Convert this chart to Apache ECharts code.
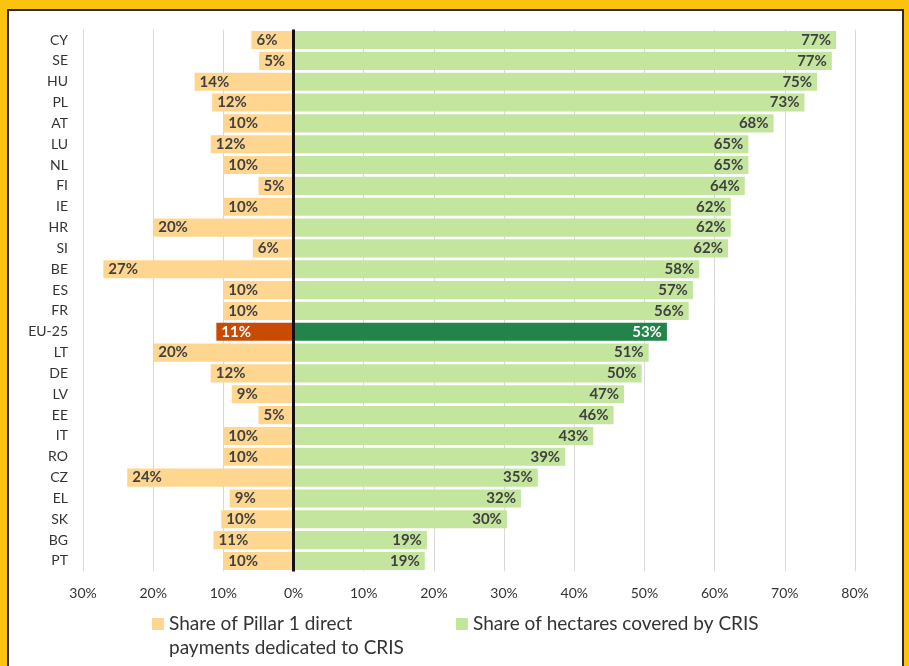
<!DOCTYPE html>
<html><head><meta charset="utf-8">
<script src="https://cdn.jsdelivr.net/npm/echarts@6/dist/echarts.min.js"></script>
<style>html,body{margin:0;padding:0;background:#FBC30E}#c{width:909px;height:666px}</style>
</head><body><div id="c"></div>
<script>
const categories = ['CY','SE','HU','PL','AT','LU','NL','FI','IE','HR','SI','BE','ES','FR','EU-25','LT','DE','LV','EE','IT','RO','CZ','EL','SK','BG','PT'];
const pillarShare = [6.0,4.9,14.1,11.6,10.0,11.8,10.0,5.0,10.0,20.0,5.8,27.1,10.0,10.0,11.0,20.0,11.8,8.8,5.0,10.0,10.0,23.7,9.1,10.3,11.4,10.0];
const hectareShare = [77.3,76.7,74.6,72.8,68.4,64.8,64.8,64.3,62.3,62.3,61.9,57.8,56.9,56.3,53.2,50.6,49.6,47.1,45.6,42.7,38.7,34.8,32.4,30.4,19.0,18.7];
const xTicks = {min:-30, max:80, interval:10};
const highlight = 'EU-25';
const seriesNames = ['Share of Pillar 1 direct payments dedicated to CRIS','Share of hectares covered by CRIS'];
const font = 'Lato, "Open Sans", sans-serif';
const chart = echarts.init(document.getElementById('c'));
const orangeData = categories.map((c,i)=>{
  const d = {value: -pillarShare[i]};
  if (c===highlight){ d.itemStyle={color:'#C94B02'}; d.label={color:'#ffffff'}; }
  return d;
});
const greenData = categories.map((c,i)=>{
  const d = {value: hectareShare[i]};
  if (c===highlight){ d.itemStyle={color:'#23844A'}; d.label={color:'#ffffff'}; }
  return d;
});
const legendText = {fontSize:19,fontFamily:font,color:'#333',lineHeight:24};
chart.setOption({
  backgroundColor:'#FBC30E',
  animation:false,
  graphic:[{type:'rect',z:-10,shape:{x:8,y:10,width:895,height:680},style:{fill:'#ffffff',stroke:'#2b2b2b',lineWidth:2}}],
  grid:{left:83,right:54,top:29.6,bottom:94.6,containLabel:false},
  xAxis:{type:'value',min:xTicks.min,max:xTicks.max,interval:xTicks.interval,
    axisLine:{show:false},axisTick:{show:false},
    splitLine:{lineStyle:{color:'#d9d9d9',width:1}},
    axisLabel:{formatter:v=>Math.abs(v)+'%',color:'#333',fontSize:14,fontFamily:font,margin:15}},
  yAxis:{type:'category',data:categories,inverse:true,
    axisLine:{show:false},axisTick:{show:false},
    axisLabel:{color:'#333',fontSize:14,fontFamily:font,margin:15}},
  legend:[
    {left:147,top:607,itemWidth:12,itemHeight:36,
     icon:'path://M0,0H12V12H0Z M0,35.9H0.01V36H0Z',
     data:[seriesNames[0]],
     formatter:()=>'Share of Pillar 1 direct\npayments dedicated to CRIS',
     textStyle:legendText},
    {left:451,top:607,itemWidth:12,itemHeight:12,icon:'rect',
     data:[seriesNames[1]],textStyle:legendText}
  ],
  series:[
    {name:seriesNames[0],type:'bar',stack:'s',data:orangeData,
     barCategoryGap:'13%',itemStyle:{color:'#FFD68F'},
     label:{show:true,position:'insideLeft',formatter:p=>Math.round(Math.abs(p.value))+'%',color:'#404040',fontWeight:'bold',fontSize:15,fontFamily:font,distance:5},
     markLine:{silent:true,symbol:['none','none'],label:{show:false},lineStyle:{color:'#111',width:3,type:'solid'},data:[{xAxis:0}],z:10}},
    {name:seriesNames[1],type:'bar',stack:'s',data:greenData,
     barCategoryGap:'13%',itemStyle:{color:'#C4E59E'},
     label:{show:true,position:'insideRight',formatter:p=>Math.round(p.value)+'%',color:'#404040',fontWeight:'bold',fontSize:15,fontFamily:font,distance:5}}
  ]
});
</script></body></html>
